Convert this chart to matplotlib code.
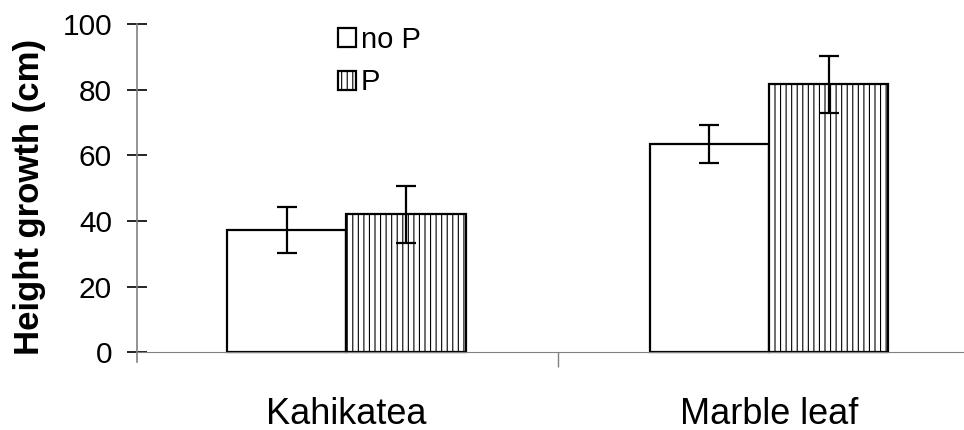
import numpy as np
import matplotlib.pyplot as plt

plt.rcParams['font.family'] = ['Liberation Sans', 'DejaVu Sans']
plt.rcParams['hatch.color'] = '#b8b8b8'
plt.rcParams['hatch.linewidth'] = 0.8

# data
species = ['Kahikatea', 'Marble leaf']
no_p = [37.3, 63.4]
no_p_err = [7.0, 5.7]
with_p = [42.0, 81.6]
with_p_err = [8.7, 8.8]

fig = plt.figure(figsize=(9.64, 4.30), dpi=100)
ax = fig.add_axes([0.142, 0.158, 0.858, 0.786])

x = np.arange(len(species))
w = 0.282
ax.bar(x - w / 2, no_p, w, color='white', edgecolor='black', linewidth=1.6,
       label='no P', zorder=2)
ax.bar(x + w / 2, with_p, w, color='white', edgecolor='black', linewidth=1.6,
       hatch='|||', label='P', zorder=2)
ax.errorbar(x - w / 2, no_p, yerr=no_p_err, fmt='none', ecolor='black',
            elinewidth=1.6, capsize=7, capthick=1.6, zorder=3)
ax.errorbar(x + w / 2, with_p, yerr=with_p_err, fmt='none', ecolor='black',
            elinewidth=1.6, capsize=7, capthick=1.6, zorder=3)

ax.set_xlim(-0.496, 1.4615)
ax.set_ylim(-3, 100)
ax.set_yticks([0, 20, 40, 60, 80, 100])
ax.tick_params(axis='y', direction='inout', length=14, width=1.2,
               labelsize=21.5, pad=11, colors='black')

# divider tick between the two groups, category names as minor labels
ax.set_xticks([0.5])
ax.set_xticklabels([''])
ax.tick_params(axis='x', which='major', direction='out', length=11, width=1.0,
               color='#808080')
ax.set_xticks(x, species, minor=True)
ax.tick_params(axis='x', which='minor', length=0, pad=32, labelsize=26)

for s in ['top', 'right']:
    ax.spines[s].set_visible(False)
ax.spines['bottom'].set_position(('data', 0))
ax.spines['bottom'].set_color('#808080')
ax.spines['left'].set_color('#808080')
ax.spines['left'].set_linewidth(1.2)

ax.set_ylabel('Height growth (cm)', fontsize=25, fontweight='bold')
ax.yaxis.set_label_coords(-0.11, 0.49)

ax.legend(loc='upper left', bbox_to_anchor=(0.243, 0.995), frameon=False,
          fontsize=21, handlelength=0.62, handleheight=0.62, handletextpad=0.17,
          labelspacing=0.5, borderpad=0, borderaxespad=0)

fig.savefig('out.png', dpi=100)
